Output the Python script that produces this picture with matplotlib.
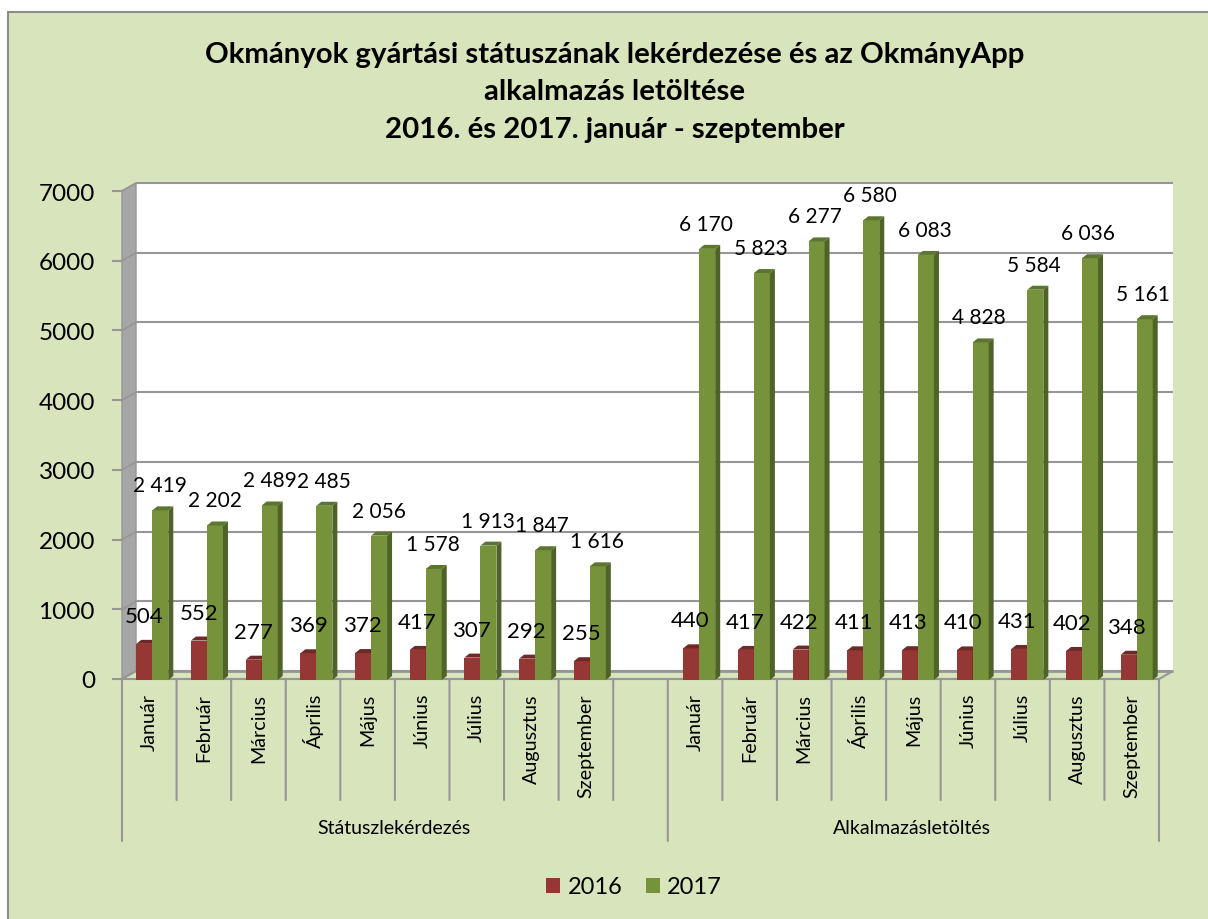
import matplotlib
matplotlib.use("Agg")
import matplotlib.pyplot as plt
from matplotlib.patches import Polygon, Rectangle

W, H = 1208, 919
plt.rcParams['font.family'] = ['Lato', 'DejaVu Sans']

title_lines = ["Okmányok gyártási státuszának lekérdezése és az OkmányApp",
               "alkalmazás letöltése",
               "2016. és 2017. január - szeptember"]
months = ["Január", "Február", "Március", "Április", "Május", "Június", "Július", "Augusztus", "Szeptember"]
groups = ["Státuszlekérdezés", "Alkalmazásletöltés"]
status_2016 = [504, 552, 277, 369, 372, 417, 307, 292, 255]
status_2017 = [2419, 2202, 2489, 2485, 2056, 1578, 1913, 1847, 1616]
app_2016 = [440, 417, 422, 411, 413, 410, 431, 402, 348]
app_2017 = [6170, 5823, 6277, 6580, 6083, 4828, 5584, 6036, 5161]
yticks = [0, 1000, 2000, 3000, 4000, 5000, 6000, 7000]

BG = '#d8e4bc'; GRID = '#969696'; WALL = '#a6a6a6'
RED = '#953735'; RED_TOP = '#6f2927'; RED_SIDE = '#632423'
GRN = '#76933c'; GRN_TOP = '#5c7530'; GRN_SIDE = '#4f6228'

fig = plt.figure(figsize=(W / 100, H / 100), dpi=100, facecolor='white')
bg = fig.add_axes([0, 0, 1, 1]); bg.set_xlim(0, W); bg.set_ylim(H, 0); bg.axis('off')
bg.add_patch(Rectangle((8, 12), W, H, fc=BG, ec='#8c8c8c', lw=1.5))

L, R, B, T = 122, 1159, 679, 191
ax = fig.add_axes([L / W, 1 - B / H, (R - L) / W, (B - T) / H])
ax.set_xlim(0, 19); ax.set_ylim(0, 7000); ax.axis('off')
ax.patch.set_alpha(0)
sx = (R - L) / 19; sy = (B - T) / 7000
DX, DY = 14 / sx, 8 / sy            # depth of the chart box, data units
dx, dy = 5 / sx, 4 / sy             # depth of a bar, data units
BW = 16 / sx
SHIFT = 3 / sx
DRIFT = 2 / sx / 18                 # bars sit on a slightly wider pitch than the ticks

# walls and floor
ax.add_patch(Polygon([(DX, DY), (19 + DX, DY), (19 + DX, 7000 + DY), (DX, 7000 + DY)], fc='white', ec='none', clip_on=False, zorder=0))
ax.add_patch(Polygon([(0, 0), (DX, DY), (DX, 7000 + DY), (0, 7000)], fc=WALL, ec=GRID, lw=1, clip_on=False, zorder=1))
ax.add_patch(Polygon([(0, 0), (DX, DY), (19 + DX, DY), (19, 0)], fc=BG, ec=GRID, lw=1.5, clip_on=False, zorder=1))
for v in yticks:
    ax.plot([DX, 19 + DX], [v + DY, v + DY], color=GRID, lw=1.5 if v else 2, clip_on=False, zorder=1.5, solid_capstyle='butt')
    ax.plot([0, DX], [v, v + DY], color=GRID, lw=1.2, clip_on=False, zorder=1.5)
    ax.plot([-9 / sx, 0], [v, v], color=GRID, lw=1.5, clip_on=False, zorder=1.5)
    ax.annotate(str(v), (0, v), xytext=(-27, -1), textcoords='offset pixels', ha='right', va='center_baseline', fontsize=17.5, annotation_clip=False)

def bar3d(x, v, c, ct, cs):
    y0 = -1 / sy
    ax.bar(x, v - y0, BW, bottom=y0, align='edge', color=c, zorder=3, clip_on=False)
    ax.add_patch(Polygon([(x, v), (x + dx, v + dy), (x + BW + dx, v + dy), (x + BW, v)], fc=ct, ec='none', clip_on=False, zorder=3))
    ax.add_patch(Polygon([(x + BW, y0), (x + BW + dx, y0 + dy), (x + BW + dx, v + dy), (x + BW, v)], fc=cs, ec='none', clip_on=False, zorder=3))

def fmt(v):
    return f"{v:,}".replace(",", " ")

series = [(0, status_2016, status_2017), (10, app_2016, app_2017)]
for start, s16, s17 in series:
    for i, (a, b) in enumerate(zip(s16, s17)):
        slot = start + i
        x = slot + 0.5 + SHIFT + DRIFT * slot
        bar3d(x - BW, a, RED, RED_TOP, RED_SIDE)
        bar3d(x, b, GRN, GRN_TOP, GRN_SIDE)
for start, s16, s17 in series:
    for i, (a, b) in enumerate(zip(s16, s17)):
        x = start + i + 0.5
        ax.annotate(str(a), (x, a), xytext=(-5, 29), textcoords='offset pixels', ha='center', va='center_baseline', fontsize=16, annotation_clip=False, zorder=5)
        ax.annotate(fmt(b), (x, b), xytext=(11, 26), textcoords='offset pixels', ha='center', va='center_baseline', fontsize=15, annotation_clip=False, zorder=5)
        ax.annotate(months[i], (x, 0), xytext=(0, -15), textcoords='offset pixels', rotation=90, ha='center', va='top', fontsize=14.2, annotation_clip=False)

for k in range(20):
    ext = 162 if k in (0, 10, 19) else 121
    ax.annotate('', (k, 0), xytext=(0, -ext), textcoords='offset pixels', annotation_clip=False,
                arrowprops=dict(arrowstyle='-', color=GRID, lw=1.5, shrinkA=0, shrinkB=0))
for name, xc in zip(groups, (5, 14.5)):
    ax.annotate(name, (xc, 0), xytext=(-1, -148), textcoords='offset pixels', ha='center', va='center_baseline', fontsize=14, annotation_clip=False)

for i, line in enumerate(title_lines):
    bg.text(615, (55, 92, 130)[i], line, ha='center', va='center', fontsize=21.2, fontweight='bold', color='black')

h16 = Rectangle((0, 0), 1, 1, fc=RED); h17 = Rectangle((0, 0), 1, 1, fc=GRN)
fig.legend([h16, h17], ['2016', '2017'], loc='center', bbox_to_anchor=(634 / W, 1 - 887 / H), ncol=2, frameon=False,
           fontsize=17, handlelength=0.6, handleheight=0.6, handletextpad=0.3, columnspacing=1.0)

fig.savefig('out.png', dpi=100, facecolor='white')
